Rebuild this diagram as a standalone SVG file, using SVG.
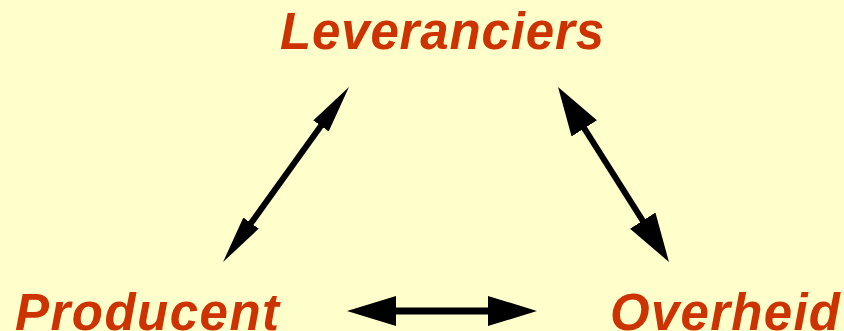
<svg xmlns="http://www.w3.org/2000/svg" width="844" height="331" viewBox="0 0 844 331">
<defs>
<style>
.lbl{font-family:"Liberation Sans",Arial,sans-serif;font-weight:bold;font-style:italic;font-size:51px;fill:#CC3300}
.con{stroke:#000;stroke-width:6;fill:none}
</style>
<marker id="hs" markerUnits="userSpaceOnUse" markerWidth="50" markerHeight="24" viewBox="-2 -12 50 24" refX="0" refY="0" orient="auto-start-reverse">
<path d="M-2,-9.5 L46,0 L-2,9.5 Z" fill="#000"/>
</marker>
<marker id="hb" markerUnits="userSpaceOnUse" markerWidth="52" markerHeight="34" viewBox="-2 -17 52 34" refX="0" refY="0" orient="auto-start-reverse">
<path d="M-2,-15 L47,0 L-2,15 Z" fill="#000"/>
</marker>
</defs>
<rect width="844" height="331" fill="#FFFFCC"/>
<g id="connectors">
<line class="con" x1="249.9" y1="224.7" x2="322.1" y2="124.3" marker-start="url(#hs)" marker-end="url(#hs)"/>
<line class="con" x1="583.2" y1="126.7" x2="643.8" y2="222.3" marker-start="url(#hb)" marker-end="url(#hb)"/>
<line class="con" x1="394" y1="311" x2="490" y2="311" style="stroke-width:7" marker-start="url(#hb)" marker-end="url(#hb)"/>
</g>
<g id="leveranciers"><text class="lbl" x="280" y="49" textLength="324" lengthAdjust="spacing">Leveranciers</text></g>
<g id="producent"><text class="lbl" x="15" y="329.5" textLength="264" lengthAdjust="spacing">Producent</text></g>
<g id="overheid"><text class="lbl" x="610" y="329.5" textLength="230" lengthAdjust="spacing">Overheid</text></g>
</svg>
